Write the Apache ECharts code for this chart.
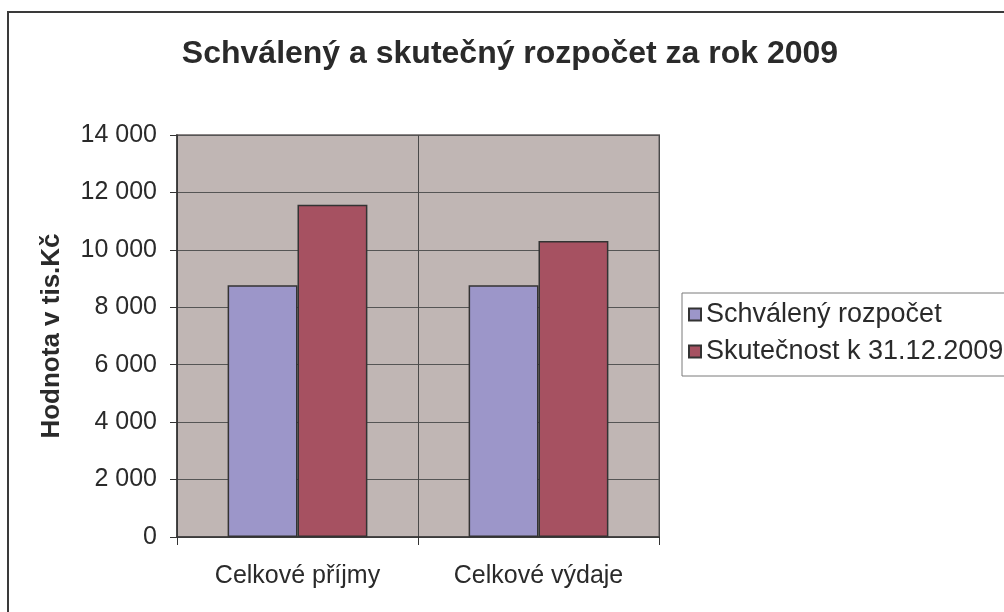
<!DOCTYPE html>
<html>
<head>
<meta charset="utf-8">
<script src="https://cdn.jsdelivr.net/npm/echarts@6/dist/echarts.min.js"></script>
<style>
html,body{margin:0;padding:0;background:#fff;}
#c{width:1004px;height:612px;}
</style>
</head>
<body>
<div id="c"></div>
<script>
const titleText = 'Schválený a skutečný rozpočet za rok 2009';
const yAxisName = 'Hodnota v tis.Kč';
const categories = ['Celkové příjmy', 'Celkové výdaje'];
const seriesNames = ['Schválený rozpočet', 'Skutečnost k 31.12.2009'];
const approved = [8770, 8770];
const actual = [11570, 10310];
const yMin = 0, yMax = 14000, yStep = 2000;

const font = '"Liberation Sans", Arial, sans-serif';
const chart = echarts.init(document.getElementById('c'), null, {renderer: 'canvas'});

function fmt(v) {
  return String(v).replace(/\B(?=(\d{3})+(?!\d))/g, ' ');
}

chart.setOption({
  backgroundColor: '#ffffff',
  animation: false,
  title: {
    text: titleText,
    left: 505,
    textAlign: 'center',
    top: 33,
    textStyle: {fontFamily: font, fontSize: 32, fontWeight: 'bold', color: '#2a2a2a'}
  },
  graphic: [{
    type: 'rect',
    shape: {x: 8, y: 12, width: 1100, height: 700},
    style: {fill: 'none', stroke: '#3a3a3a', lineWidth: 2},
    silent: true
  }],
  legend: {
    left: 682,
    top: 293,
    orient: 'vertical',
    padding: [8, 30, 11, 6],
    itemGap: 10,
    itemWidth: 12,
    itemHeight: 12,
    itemTextGap: 5,
    borderColor: '#7a7a7a',
    borderWidth: 1,
    icon: 'rect',
    textStyle: {fontFamily: font, fontSize: 27, color: '#2a2a2a'},
    data: seriesNames
  },
  grid: {
    left: 177, right: 345, top: 135, bottom: 75,
    show: true,
    backgroundColor: '#C0B6B4',
    borderColor: '#8c8686',
    borderWidth: 2
  },
  xAxis: {
    type: 'category',
    data: categories,
    boundaryGap: true,
    axisLine: {show: true, lineStyle: {color: '#333', width: 1.5}},
    axisTick: {show: true, length: 8, lineStyle: {color: '#333'}},
    splitLine: {show: true, lineStyle: {color: '#4a4a4a', width: 1}},
    axisLabel: {fontFamily: font, fontSize: 25, color: '#2a2a2a', margin: 27}
  },
  yAxis: {
    type: 'value',
    min: yMin, max: yMax, interval: yStep,
    name: yAxisName,
    nameLocation: 'middle',
    nameRotate: 90,
    nameGap: 112,
    nameTextStyle: {fontFamily: font, fontSize: 26, fontWeight: 'bold', color: '#2a2a2a'},
    axisLine: {show: true, lineStyle: {color: '#333', width: 1.5}},
    axisTick: {show: true, length: 7, inside: false, lineStyle: {color: '#333'}},
    splitLine: {show: true, lineStyle: {color: '#555', width: 1}},
    axisLabel: {fontFamily: font, fontSize: 25, color: '#2a2a2a', margin: 20, formatter: fmt}
  },
  series: [
    {
      name: seriesNames[0], type: 'bar', data: approved,
      barGap: '0%', barCategoryGap: '42%',
      itemStyle: {color: '#9C96C9', borderColor: '#333', borderWidth: 1.5}
    },
    {
      name: seriesNames[1], type: 'bar', data: actual,
      barGap: '0%', barCategoryGap: '42%',
      itemStyle: {color: '#A65161', borderColor: '#333', borderWidth: 1.5}
    }
  ]
});
</script>
</body>
</html>
